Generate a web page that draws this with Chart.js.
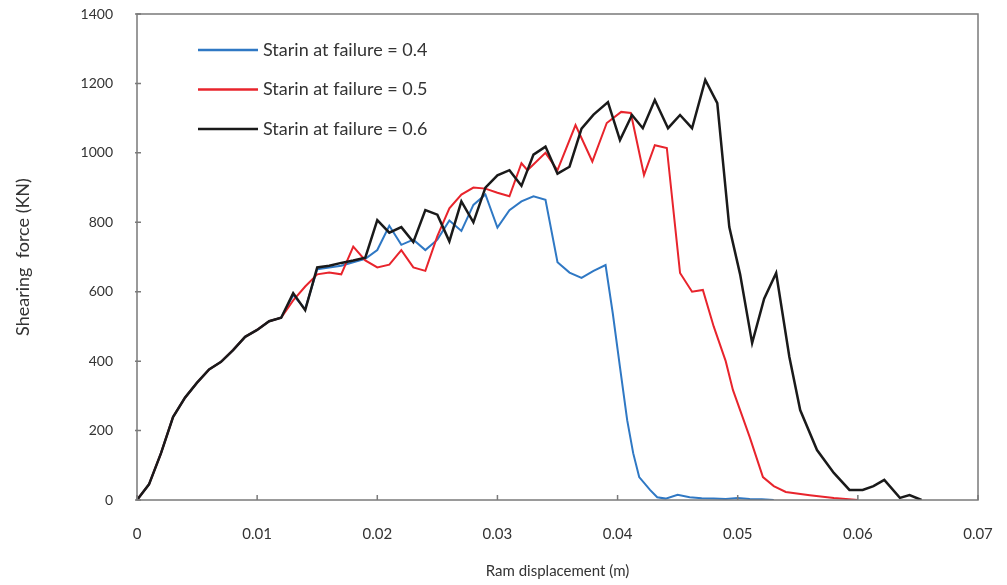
<!DOCTYPE html>
<html>
<head>
<meta charset="utf-8">
<script src="https://cdn.jsdelivr.net/npm/chart.js@4/dist/chart.umd.min.js"></script>
<style>
  html, body { margin: 0; padding: 0; background: #fff; }
  #wrap { width: 1007px; height: 585px; }
</style>
</head>
<body>
<div id="wrap"><canvas id="chart1" width="1007" height="585"></canvas></div>
<script>
// data: ram displacement (m) vs shearing force (KN)
const xTicks = [0, 0.01, 0.02, 0.03, 0.04, 0.05, 0.06, 0.07];
const yTicks = [0, 200, 400, 600, 800, 1000, 1200, 1400];

const seriesLabels = ['Starin at failure = 0.4', 'Starin at failure = 0.5', 'Starin at failure = 0.6'];
const seriesColors = ['#2f78c4', '#e8242c', '#1a1a1a'];

// common start, all three curves overlap up to ~0.012 m
const startX = [0, 0.001, 0.002, 0.003, 0.004, 0.005, 0.006, 0.007, 0.008, 0.009, 0.010, 0.011, 0.012];
const startY = [0, 45, 135, 239, 295, 338, 376, 398, 432, 470, 490, 515, 525];

const x04 = [0.013, 0.014, 0.015, 0.016, 0.017, 0.018, 0.019, 0.020, 0.021, 0.022, 0.023, 0.024, 0.025, 0.026,
  0.027, 0.028, 0.029, 0.030, 0.031, 0.032, 0.033, 0.034, 0.035, 0.036, 0.037, 0.038, 0.039, 0.0396, 0.0402,
  0.0408, 0.0413, 0.0418, 0.0427, 0.0433, 0.044, 0.045, 0.046, 0.047, 0.048, 0.049, 0.050, 0.051, 0.052, 0.053];
const y04 = [590, 550, 665, 670, 675, 685, 695, 720, 790, 735, 750, 720, 750, 805,
  775, 850, 880, 785, 835, 860, 875, 865, 685, 655, 640, 660, 677, 538, 383,
  230, 135, 66, 29, 8, 4, 15, 8, 5, 4, 3, 6, 3, 2, 0];

const x05 = [0.013, 0.014, 0.015, 0.016, 0.017, 0.018, 0.019, 0.020, 0.021, 0.022, 0.023, 0.024, 0.025, 0.026,
  0.027, 0.028, 0.029, 0.030, 0.031, 0.032, 0.0325, 0.034, 0.035, 0.0365, 0.0379, 0.0391, 0.0403, 0.0411,
  0.0422, 0.0431, 0.0441, 0.0452, 0.0462, 0.0471, 0.048, 0.049, 0.0496, 0.051, 0.0521, 0.053, 0.054, 0.056,
  0.058, 0.060];
const y05 = [575, 615, 650, 655, 650, 730, 690, 670, 678, 720, 670, 660, 760, 840,
  880, 900, 897, 885, 875, 970, 950, 1000, 950, 1080, 975, 1086, 1118, 1115,
  936, 1022, 1014, 654, 600, 605, 500, 400, 317, 181, 66, 40, 23, 14,
  6, 0];

const x06 = [0.013, 0.014, 0.015, 0.016, 0.017, 0.018, 0.019, 0.020, 0.021, 0.022, 0.023, 0.024, 0.025, 0.026,
  0.027, 0.028, 0.029, 0.030, 0.031, 0.032, 0.033, 0.034, 0.035, 0.036, 0.037, 0.038, 0.0392, 0.0402,
  0.0412, 0.0421, 0.0431, 0.0442, 0.0452, 0.0462, 0.0473, 0.0483, 0.0493, 0.0502, 0.0512, 0.0522, 0.0532,
  0.0543, 0.0552, 0.0566, 0.058, 0.0593, 0.0604, 0.0613, 0.0622, 0.0635, 0.0643, 0.0653];
const y06 = [596, 547, 670, 675, 683, 690, 698, 806, 770, 786, 743, 835, 822, 745,
  860, 800, 900, 935, 950, 905, 995, 1018, 940, 960, 1070, 1110, 1146, 1037,
  1109, 1071, 1152, 1071, 1109, 1071, 1210, 1143, 786, 650, 452, 580, 654,
  412, 259, 144, 78, 29, 29, 40, 58, 6, 14, 0];

function toPoints(xs, ys) {
  const pts = startX.map((x, i) => ({ x: x, y: startY[i] }));
  return pts.concat(xs.map((x, i) => ({ x: x, y: ys[i] })));
}

// frame box, inward tick marks and the legend inside the plot
const framePlugin = {
  id: 'frame',
  afterDraw(chart) {
    const ctx = chart.ctx;
    const a = chart.chartArea;
    const sx = chart.scales.x, sy = chart.scales.y;
    ctx.save();
    ctx.strokeStyle = '#7a7a7a';
    ctx.lineWidth = 1.5;
    ctx.strokeRect(a.left, a.top, a.right - a.left, a.bottom - a.top);
    ctx.beginPath();
    xTicks.forEach(v => {
      const px = sx.getPixelForValue(v);
      ctx.moveTo(px, a.bottom);
      ctx.lineTo(px, a.bottom - 5);
    });
    yTicks.forEach(v => {
      const py = sy.getPixelForValue(v);
      ctx.moveTo(a.left - 2, py);
      ctx.lineTo(a.left + 4, py);
    });
    ctx.stroke();

    // legend
    ctx.font = '18px Lato';
    ctx.textBaseline = 'middle';
    ctx.textAlign = 'left';
    seriesLabels.forEach((lab, i) => {
      const ly = a.top + 36 + i * 39.5;
      ctx.strokeStyle = seriesColors[i];
      ctx.lineWidth = 2.5;
      ctx.beginPath();
      ctx.moveTo(a.left + 61, ly);
      ctx.lineTo(a.left + 121, ly);
      ctx.stroke();
      ctx.fillStyle = '#333333';
      ctx.fillText(lab, a.left + 126, ly);
    });
    ctx.restore();
  }
};

const ctx1 = document.getElementById('chart1').getContext('2d');
new Chart(ctx1, {
  type: 'scatter',
  data: {
    datasets: [
      { label: seriesLabels[0], data: toPoints(x04, y04), borderColor: seriesColors[0], borderWidth: 2, showLine: true, pointRadius: 0, tension: 0, order: 3 },
      { label: seriesLabels[1], data: toPoints(x05, y05), borderColor: seriesColors[1], borderWidth: 2, showLine: true, pointRadius: 0, tension: 0, order: 2 },
      { label: seriesLabels[2], data: toPoints(x06, y06), borderColor: seriesColors[2], borderWidth: 2.5, showLine: true, pointRadius: 0, tension: 0, order: 1 }
    ]
  },
  options: {
    responsive: false,
    animation: false,
    layout: { padding: { left: 0, top: 14, right: 29, bottom: 0 } },
    scales: {
      x: {
        type: 'linear',
        min: 0,
        max: 0.07,
        afterBuildTicks: (s) => { s.ticks = xTicks.map(v => ({ value: v })); },
        afterFit: (s) => { s.height = 85; s.paddingLeft = 0; s.paddingRight = 0; },
        ticks: {
          color: '#333333',
          font: { family: 'Lato', size: 15 },
          padding: 17,
          callback: (v) => String(+v.toFixed(2))
        },
        grid: { display: false },
        border: { display: false },
        title: {
          display: true,
          text: 'Ram displacement (m)',
          color: '#333333',
          font: { family: 'Lato', size: 15 },
          padding: { top: 0, bottom: 5 }
        }
      },
      y: {
        min: 0,
        max: 1400,
        afterBuildTicks: (s) => { s.ticks = yTicks.map(v => ({ value: v })); },
        afterFit: (s) => { s.width = 137; s.paddingTop = 0; s.paddingBottom = 0; },
        ticks: {
          color: '#333333',
          font: { family: 'Lato', size: 14 },
          padding: 16,
          callback: (v) => String(v)
        },
        grid: { display: false },
        border: { display: false },
        title: {
          display: true,
          text: 'Shearing  force (KN)',
          color: '#333333',
          font: { family: 'Lato', size: 18 },
          padding: { top: 12, bottom: 0 }
        }
      }
    },
    plugins: {
      legend: { display: false },
      tooltip: { enabled: false }
    }
  },
  plugins: [framePlugin]
});
</script>
</body>
</html>
